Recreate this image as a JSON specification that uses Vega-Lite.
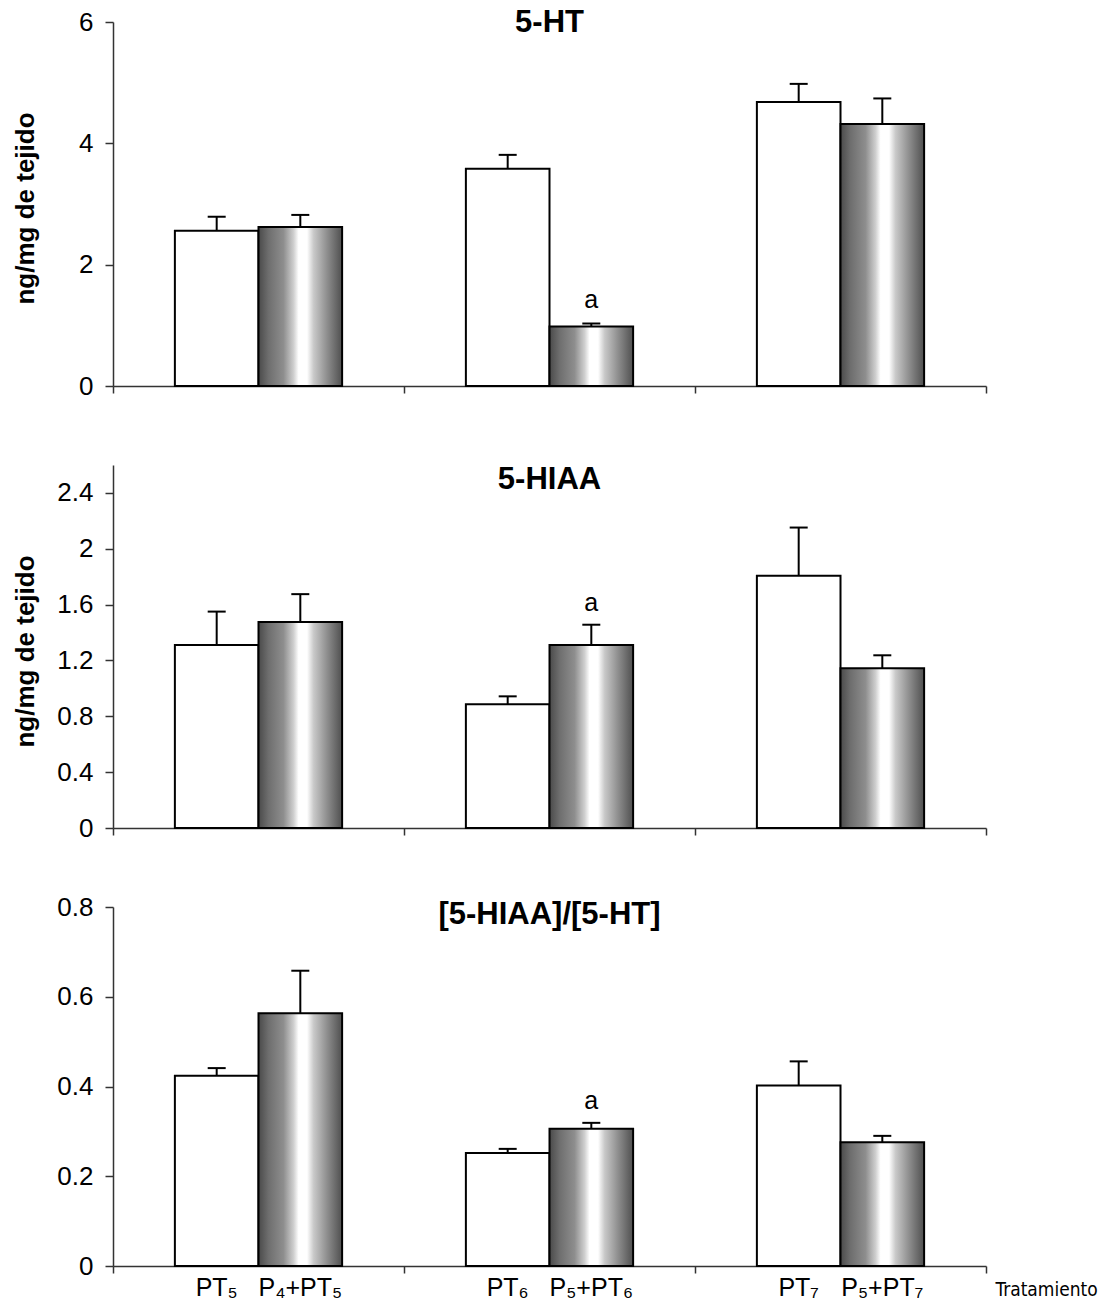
{
  "$schema": "https://vega.github.io/schema/vega-lite/v6.json",
  "padding": {"left": 12, "top": 7, "right": 5, "bottom": 5},
  "background": "white",
  "datasets": {
    "ht": [
      {"group": "G5", "type": "C", "label": "PT₅", "mean": 2.56, "upper": 2.79},
      {"group": "G5", "type": "P", "label": "P₄+PT₅", "mean": 2.62, "upper": 2.82},
      {"group": "G6", "type": "C", "label": "PT₆", "mean": 3.58, "upper": 3.81},
      {"group": "G6", "type": "P", "label": "P₅+PT₆", "mean": 0.98, "upper": 1.03, "sig": "a"},
      {"group": "G7", "type": "C", "label": "PT₇", "mean": 4.68, "upper": 4.98},
      {"group": "G7", "type": "P", "label": "P₅+PT₇", "mean": 4.32, "upper": 4.74}
    ],
    "hiaa": [
      {"group": "G5", "type": "C", "label": "PT₅", "mean": 1.31, "upper": 1.55},
      {"group": "G5", "type": "P", "label": "P₄+PT₅", "mean": 1.475, "upper": 1.675},
      {"group": "G6", "type": "C", "label": "PT₆", "mean": 0.886, "upper": 0.943},
      {"group": "G6", "type": "P", "label": "P₅+PT₆", "mean": 1.31, "upper": 1.456, "sig": "a"},
      {"group": "G7", "type": "C", "label": "PT₇", "mean": 1.807, "upper": 2.152},
      {"group": "G7", "type": "P", "label": "P₅+PT₇", "mean": 1.145, "upper": 1.237}
    ],
    "ratio": [
      {"group": "G5", "type": "C", "label": "PT₅", "mean": 0.424, "upper": 0.441},
      {"group": "G5", "type": "P", "label": "P₄+PT₅", "mean": 0.563, "upper": 0.658},
      {"group": "G6", "type": "C", "label": "PT₆", "mean": 0.252, "upper": 0.261},
      {"group": "G6", "type": "P", "label": "P₅+PT₆", "mean": 0.306, "upper": 0.319, "sig": "a"},
      {"group": "G7", "type": "C", "label": "PT₇", "mean": 0.402, "upper": 0.456},
      {"group": "G7", "type": "P", "label": "P₅+PT₇", "mean": 0.276, "upper": 0.29}
    ]
  },
  "config": {
    "view": {"stroke": null},
    "axis": {
      "grid": false,
      "labelFont": "Liberation Sans",
      "labelFontSize": 26,
      "labelColor": "black",
      "domainColor": "#333333",
      "tickColor": "#333333",
      "domainWidth": 1.5,
      "tickWidth": 1.5
    },
    "text": {"font": "Liberation Sans", "color": "black"}
  },
  "spacing": 79,
  "bounds": "flush",
  "vconcat": [
    {
      "width": 873,
      "height": 364,
      "data": {"name": "ht"},
      "layer": [
        {
          "mark": {"type": "bar", "stroke": "black", "strokeWidth": 2},
          "encoding": {
            "x": {"field": "group", "type": "nominal", "scale": {"paddingInner": 0, "paddingOuter": 0}, "axis": {"labels": false, "title": null, "tickBand": "extent", "tickSize": 7}},
            "xOffset": {"field": "type", "type": "nominal", "scale": {"domain": ["C", "P"], "paddingInner": 0, "paddingOuter": 0.74}},
            "y": {"field": "mean", "type": "quantitative", "scale": {"domain": [0, 6]}, "axis": {"values": [0, 2, 4, 6], "format": "~g", "tickSize": 8, "labelPadding": 12, "title": "ng/mg de tejido", "titleFont": "Liberation Sans", "titleFontSize": 26, "titleFontWeight": "bold", "titleColor": "black", "titleAngle": 270, "titleX": -88, "titleY": 186, "titleAlign": "center", "titleBaseline": "middle"}},
            "fill": {"condition": {"test": "datum.type === 'P'", "value": {"gradient": "linear", "x1": 0, "x2": 1, "y1": 0, "y2": 0, "stops": [{"offset": 0, "color": "#4a4a4a"}, {"offset": 0.12, "color": "#6e6e6e"}, {"offset": 0.3, "color": "#8e8e8e"}, {"offset": 0.42, "color": "#cfcfcf"}, {"offset": 0.48, "color": "#ffffff"}, {"offset": 0.58, "color": "#ffffff"}, {"offset": 0.66, "color": "#c8c8c8"}, {"offset": 0.82, "color": "#8e8e8e"}, {"offset": 1, "color": "#4f4f4f"}]}}, "value": "white"}
          }
        },
        {
          "mark": {"type": "rule", "stroke": "black", "strokeWidth": 2},
          "encoding": {
            "x": {"field": "group", "type": "nominal"},
            "xOffset": {"field": "type", "type": "nominal"},
            "y": {"field": "mean", "type": "quantitative"},
            "y2": {"field": "upper"}
          }
        },
        {
          "mark": {"type": "tick", "orient": "horizontal", "size": 18, "thickness": 2, "color": "black", "opacity": 1},
          "encoding": {
            "x": {"field": "group", "type": "nominal"},
            "xOffset": {"field": "type", "type": "nominal"},
            "y": {"field": "upper", "type": "quantitative"}
          }
        },
        {
          "transform": [{"filter": "datum.sig"}],
          "mark": {"type": "text", "fontSize": 25, "baseline": "middle", "dy": -24},
          "encoding": {
            "x": {"field": "group", "type": "nominal"},
            "xOffset": {"field": "type", "type": "nominal"},
            "y": {"field": "upper", "type": "quantitative"},
            "text": {"field": "sig"}
          }
        },
        {
          "data": {"values": [{"group": "G6", "name": "5-HT"}]},
          "mark": {"type": "text", "fontSize": 31, "fontWeight": "bold", "baseline": "middle", "dy": 1},
          "encoding": {
            "x": {"field": "group", "type": "nominal"},
            "y": {"datum": 6},
            "text": {"field": "name"}
          }
        }
      ]
    },
    {
      "width": 873,
      "height": 363,
      "data": {"name": "hiaa"},
      "layer": [
        {
          "mark": {"type": "bar", "stroke": "black", "strokeWidth": 2},
          "encoding": {
            "x": {"field": "group", "type": "nominal", "scale": {"paddingInner": 0, "paddingOuter": 0}, "axis": {"labels": false, "title": null, "tickBand": "extent", "tickSize": 7}},
            "xOffset": {"field": "type", "type": "nominal", "scale": {"domain": ["C", "P"], "paddingInner": 0, "paddingOuter": 0.74}},
            "y": {"field": "mean", "type": "quantitative", "scale": {"domain": [0, 2.5]}, "axis": {"values": [0, 0.4, 0.8, 1.2, 1.6, 2, 2.4], "format": "~g", "tickSize": 8, "labelPadding": 12, "title": "ng/mg de tejido", "titleFont": "Liberation Sans", "titleFontSize": 26, "titleFontWeight": "bold", "titleColor": "black", "titleAngle": 270, "titleX": -88, "titleY": 186, "titleAlign": "center", "titleBaseline": "middle"}},
            "fill": {"condition": {"test": "datum.type === 'P'", "value": {"gradient": "linear", "x1": 0, "x2": 1, "y1": 0, "y2": 0, "stops": [{"offset": 0, "color": "#4a4a4a"}, {"offset": 0.12, "color": "#6e6e6e"}, {"offset": 0.3, "color": "#8e8e8e"}, {"offset": 0.42, "color": "#cfcfcf"}, {"offset": 0.48, "color": "#ffffff"}, {"offset": 0.58, "color": "#ffffff"}, {"offset": 0.66, "color": "#c8c8c8"}, {"offset": 0.82, "color": "#8e8e8e"}, {"offset": 1, "color": "#4f4f4f"}]}}, "value": "white"}
          }
        },
        {
          "mark": {"type": "rule", "stroke": "black", "strokeWidth": 2},
          "encoding": {
            "x": {"field": "group", "type": "nominal"},
            "xOffset": {"field": "type", "type": "nominal"},
            "y": {"field": "mean", "type": "quantitative"},
            "y2": {"field": "upper"}
          }
        },
        {
          "mark": {"type": "tick", "orient": "horizontal", "size": 18, "thickness": 2, "color": "black", "opacity": 1},
          "encoding": {
            "x": {"field": "group", "type": "nominal"},
            "xOffset": {"field": "type", "type": "nominal"},
            "y": {"field": "upper", "type": "quantitative"}
          }
        },
        {
          "transform": [{"filter": "datum.sig"}],
          "mark": {"type": "text", "fontSize": 25, "baseline": "middle", "dy": -22},
          "encoding": {
            "x": {"field": "group", "type": "nominal"},
            "xOffset": {"field": "type", "type": "nominal"},
            "y": {"field": "upper", "type": "quantitative"},
            "text": {"field": "sig"}
          }
        },
        {
          "data": {"values": [{"group": "G6", "name": "5-HIAA"}]},
          "mark": {"type": "text", "fontSize": 31, "fontWeight": "bold", "baseline": "middle", "dy": 1},
          "encoding": {
            "x": {"field": "group", "type": "nominal"},
            "y": {"datum": 2.5},
            "text": {"field": "name"}
          }
        }
      ]
    },
    {
      "width": 873,
      "height": 359,
      "data": {"name": "ratio"},
      "layer": [
        {
          "mark": {"type": "bar", "stroke": "black", "strokeWidth": 2},
          "encoding": {
            "x": {"field": "group", "type": "nominal", "scale": {"paddingInner": 0, "paddingOuter": 0}, "axis": {"labels": false, "tickBand": "extent", "tickSize": 7, "title": "Tratamiento", "titleFont": "DejaVu Sans Condensed, Liberation Sans Narrow, Liberation Sans", "titleFontSize": 19, "titleFontWeight": "normal", "titleColor": "black", "titleX": 882, "titleY": 23, "titleAlign": "left", "titleBaseline": "middle"}},
            "xOffset": {"field": "type", "type": "nominal", "scale": {"domain": ["C", "P"], "paddingInner": 0, "paddingOuter": 0.74}},
            "y": {"field": "mean", "type": "quantitative", "scale": {"domain": [0, 0.8]}, "axis": {"values": [0, 0.2, 0.4, 0.6, 0.8], "format": "~g", "tickSize": 8, "labelPadding": 12, "title": null}},
            "fill": {"condition": {"test": "datum.type === 'P'", "value": {"gradient": "linear", "x1": 0, "x2": 1, "y1": 0, "y2": 0, "stops": [{"offset": 0, "color": "#4a4a4a"}, {"offset": 0.12, "color": "#6e6e6e"}, {"offset": 0.3, "color": "#8e8e8e"}, {"offset": 0.42, "color": "#cfcfcf"}, {"offset": 0.48, "color": "#ffffff"}, {"offset": 0.58, "color": "#ffffff"}, {"offset": 0.66, "color": "#c8c8c8"}, {"offset": 0.82, "color": "#8e8e8e"}, {"offset": 1, "color": "#4f4f4f"}]}}, "value": "white"}
          }
        },
        {
          "mark": {"type": "rule", "stroke": "black", "strokeWidth": 2},
          "encoding": {
            "x": {"field": "group", "type": "nominal"},
            "xOffset": {"field": "type", "type": "nominal"},
            "y": {"field": "mean", "type": "quantitative"},
            "y2": {"field": "upper"}
          }
        },
        {
          "mark": {"type": "tick", "orient": "horizontal", "size": 18, "thickness": 2, "color": "black", "opacity": 1},
          "encoding": {
            "x": {"field": "group", "type": "nominal"},
            "xOffset": {"field": "type", "type": "nominal"},
            "y": {"field": "upper", "type": "quantitative"}
          }
        },
        {
          "transform": [{"filter": "datum.sig"}],
          "mark": {"type": "text", "fontSize": 25, "baseline": "middle", "dy": -22},
          "encoding": {
            "x": {"field": "group", "type": "nominal"},
            "xOffset": {"field": "type", "type": "nominal"},
            "y": {"field": "upper", "type": "quantitative"},
            "text": {"field": "sig"}
          }
        },
        {
          "mark": {"type": "text", "fontSize": 25, "baseline": "middle", "dy": 22},
          "encoding": {
            "x": {"field": "group", "type": "nominal"},
            "xOffset": {"field": "type", "type": "nominal"},
            "y": {"datum": 0},
            "text": {"field": "label"}
          }
        },
        {
          "data": {"values": [{"group": "G6", "name": "[5-HIAA]/[5-HT]"}]},
          "mark": {"type": "text", "fontSize": 31, "fontWeight": "bold", "baseline": "middle", "dy": 8},
          "encoding": {
            "x": {"field": "group", "type": "nominal"},
            "y": {"datum": 0.8},
            "text": {"field": "name"}
          }
        }
      ]
    }
  ]
}
